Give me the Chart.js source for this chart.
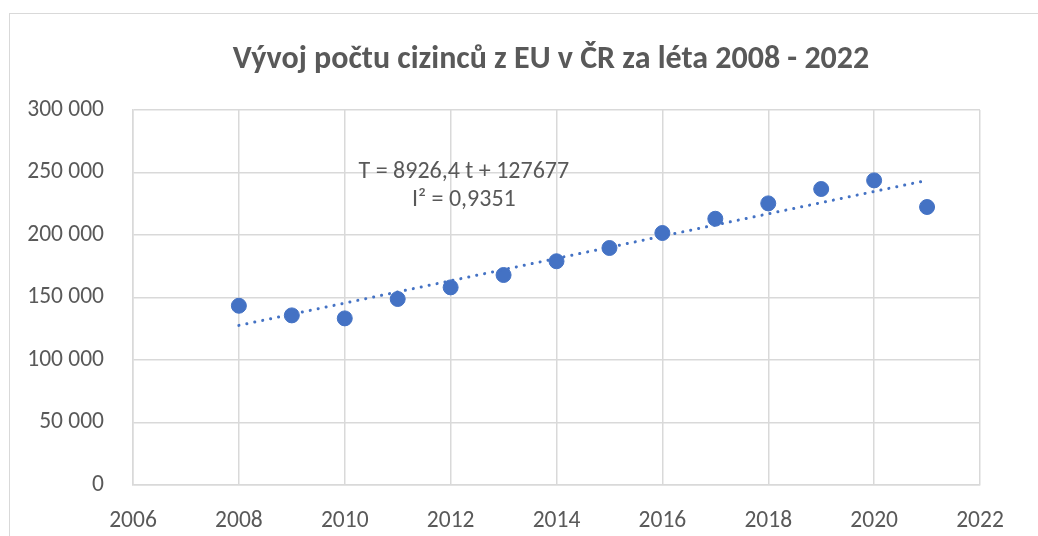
<!DOCTYPE html>
<html>
<head>
<meta charset="utf-8">
<script src="https://cdn.jsdelivr.net/npm/chart.js@4.4.0/dist/chart.umd.min.js"></script>
<style>
  html, body { margin: 0; padding: 0; background: #fff; }
  #wrap { position: relative; width: 1038px; height: 536px; overflow: hidden; }
  #frame { position: absolute; left: 9px; top: 13px; width: 1100px; height: 600px; border: 1.5px solid #d9d9d9; }
  canvas { position: absolute; left: 0; top: 0; }
</style>
</head>
<body>
<div id="wrap">
  <div id="frame"></div>
  <canvas id="myChart" width="1038" height="536"></canvas>
</div>
<script>
// roky a počty cizinců z EU
const years = [2008, 2009, 2010, 2011, 2012, 2013, 2014, 2015, 2016, 2017, 2018, 2019, 2020, 2021];
const foreigners = [143400, 135700, 133300, 148800, 158100, 168000, 179000, 189600, 201600, 213000, 225300, 236800, 243700, 222400];

// lineární trend - koncové body
const trendYears = [2008, 2021];
const trendValues = [127677, 243720];

const titleText = 'Vývoj počtu cizinců z EU v ČR za léta 2008 - 2022';
const equationLines = ['T = 8926,4 t + 127677', 'I² = 0,9351'];

const fontFamily = 'Carlito, Calibri, Lato, sans-serif';
const textColor = '#595959';
const gridColor = '#d9d9d9';
const blue = '#4472C4';

const formatThousands = v => String(v).replace(/\B(?=(\d{3})+(?!\d))/g, ' ');

// nadpis a popisek rovnice trendu
const chartTexts = {
    id: 'chartTexts',
    afterDatasetsDraw(chart) {
        const { ctx, scales } = chart;
        ctx.save();
        ctx.fillStyle = textColor;
        ctx.textAlign = 'center';
        ctx.textBaseline = 'middle';

        ctx.font = `bold 32px ${fontFamily}`;
        ctx.fillText(titleText, 551, 60);

        const x = scales.x.getPixelForValue(2012.25);
        const y = scales.y.getPixelForValue(250400);
        ctx.font = `24px ${fontFamily}`;
        equationLines.forEach((line, i) => ctx.fillText(line, x, y + i * 28));
        ctx.restore();
    }
};

const chartCanvas = document.getElementById('myChart');

new Chart(chartCanvas, {
    type: 'scatter',
    data: {
        datasets: [
            {
                label: 'Cizinci z EU',
                data: years.map((year, i) => ({ x: year, y: foreigners[i] })),
                backgroundColor: blue,
                borderColor: blue,
                pointRadius: 7.5,
                pointHoverRadius: 7.5,
                order: 2
            },
            {
                label: 'Trend',
                type: 'line',
                data: trendYears.map((year, i) => ({ x: year, y: trendValues[i] })),
                borderColor: blue,
                borderWidth: 3,
                borderDash: [0.1, 8],
                borderCapStyle: 'round',
                pointRadius: 0,
                fill: false,
                order: 1
            }
        ]
    },
    options: {
        responsive: false,
        animation: false,
        layout: { padding: { left: 0, right: 58, top: 110, bottom: 0 } },
        plugins: {
            legend: { display: false },
            tooltip: { enabled: false },
            title: { display: false }
        },
        scales: {
            x: {
                type: 'linear',
                min: 2006,
                max: 2022,
                grid: { color: gridColor, lineWidth: 1.5, drawTicks: false },
                border: { color: gridColor, width: 1.5 },
                ticks: {
                    stepSize: 2,
                    padding: 22,
                    color: textColor,
                    font: { family: fontFamily, size: 23.5 },
                    callback: v => String(v)
                },
                afterFit: scale => { scale.height = 51; }
            },
            y: {
                min: 0,
                max: 300000,
                grid: { color: gridColor, lineWidth: 1.5, drawTicks: false },
                border: { color: gridColor, width: 1.5 },
                ticks: {
                    stepSize: 50000,
                    padding: 29,
                    color: textColor,
                    font: { family: fontFamily, size: 23.5 },
                    callback: v => formatThousands(v)
                },
                afterFit: scale => { scale.width = 133; }
            }
        }
    },
    plugins: [chartTexts]
});
</script>
</body>
</html>
